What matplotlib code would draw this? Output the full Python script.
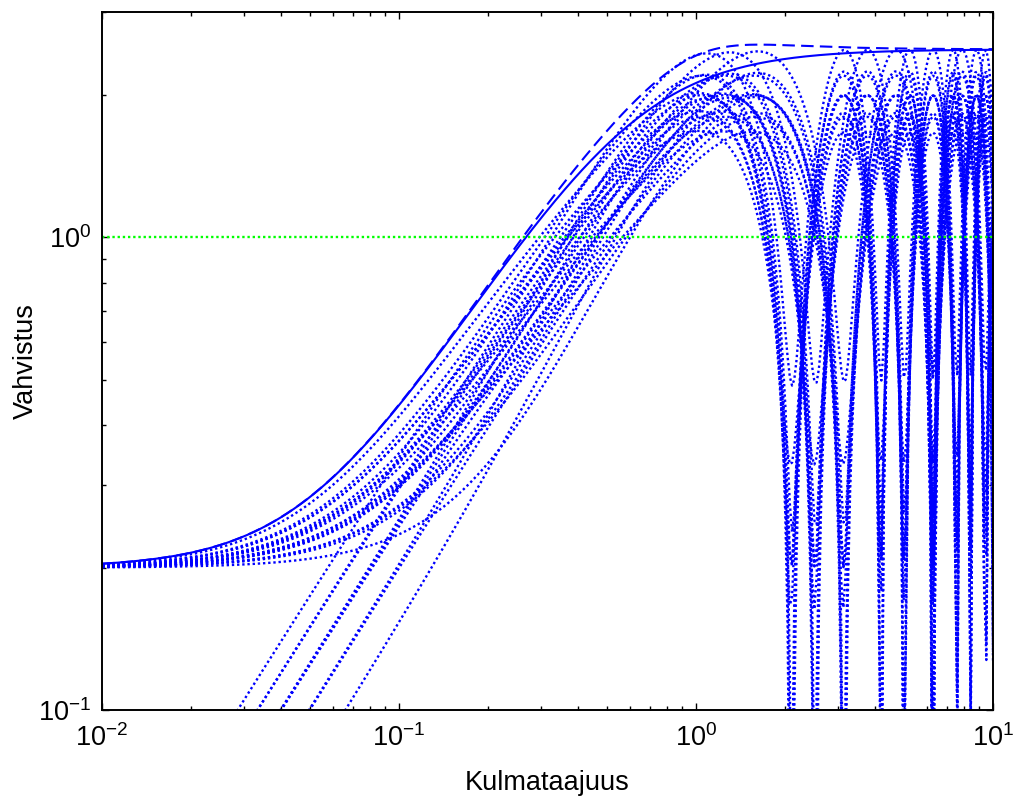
import numpy as np
import matplotlib
matplotlib.use("Agg")
import matplotlib.pyplot as plt
from matplotlib.ticker import LogLocator, NullFormatter

plt.rcParams['font.family'] = ['Liberation Sans', 'DejaVu Sans']
plt.rcParams['mathtext.fontset'] = 'custom'
plt.rcParams['mathtext.rm'] = 'Liberation Sans'
plt.rcParams['mathtext.it'] = 'Liberation Sans'

# Plant set Gp = k/(tau s + 1) e^(-theta s), each parameter in {2, 2.5, 3}
k_values = [2.0, 2.5, 3.0]
tau_values = [2.0, 2.5, 3.0]
theta_values = [2.0, 2.5, 3.0]

# Nominal delay-free model G = k0/(tau0 s + 1)
k_nom = 2.5
tau_nom = 2.5

# First-order weight wI1 = (T s + r0)/((T/rinf) s + 1)
r0 = 0.2
rinf = 2.5
T_w = 4.0
# Correction factor (s^2 + 1.6 s + 1)/(s^2 + 1.4 s + 1)
corr_num = [1.0, 1.6, 1.0]
corr_den = [1.0, 1.4, 1.0]

bound_level = 1.0

w = np.logspace(-2, 1, 400)
s = 1j * w

G_nom = k_nom / (tau_nom * s + 1)

fig = plt.figure(figsize=(10.13, 7.98), dpi=100)
ax = fig.add_axes([0.1007, 0.1103, 0.8796, 0.8747])

# relative errors |(Gp - G)/G| for the 27 plants
for k in k_values:
    for tau in tau_values:
        for theta in theta_values:
            Gp = k / (tau * s + 1) * np.exp(-theta * s)
            rel = np.abs((Gp - G_nom) / G_nom)
            ax.loglog(w, rel, linestyle=(0, (1, 1.2)), color='#0000ff', lw=1.7)

wI1 = (T_w * s + r0) / ((T_w / rinf) * s + 1)
wI = wI1 * np.polyval(corr_num, s) / np.polyval(corr_den, s)
ax.loglog(w, np.abs(wI1), linestyle='-', color='#0000ff', lw=1.5)
ax.loglog(w, np.abs(wI), linestyle=(0, (6, 3)), color='#0000ff', lw=1.5)
ax.axhline(bound_level, linestyle=(0, (1, 1.2)), color='#00ff00', lw=1.7)

ax.set_xlim(1e-2, 1e1)
ax.set_ylim(1e-1, 3.0)
ax.xaxis.set_major_locator(LogLocator(base=10, numticks=10))
ax.yaxis.set_major_locator(LogLocator(base=10, numticks=10))
ax.yaxis.set_minor_locator(LogLocator(base=10, subs=np.arange(2, 10), numticks=10))
ax.xaxis.set_minor_locator(LogLocator(base=10, subs=np.arange(2, 10), numticks=10))
ax.yaxis.set_minor_formatter(NullFormatter())
ax.xaxis.set_minor_formatter(NullFormatter())
ax.tick_params(which='both', direction='in', top=True, right=True, labelsize=19.5, width=1.0)
ax.tick_params(which='major', length=5)
ax.tick_params(axis='x', which='major', pad=10)
ax.tick_params(axis='y', which='major', pad=8)
ax.tick_params(which='minor', length=3)
for sp in ax.spines.values():
    sp.set_linewidth(1.4)

ax.set_xlabel('Kulmataajuus', fontsize=19.5, labelpad=13)
ax.set_ylabel('Vahvistus', fontsize=19.5, labelpad=-1)

fig.savefig('out.png', dpi=100)
